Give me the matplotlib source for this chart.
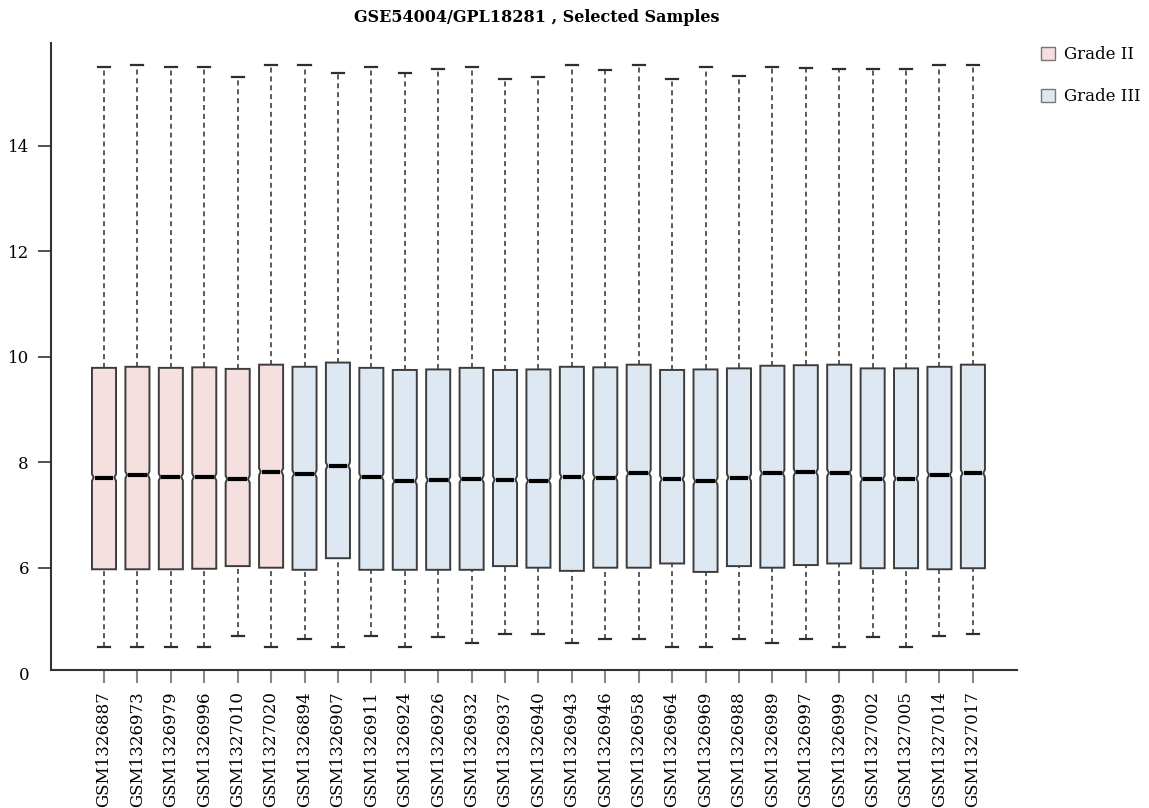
import matplotlib
matplotlib.use("Agg")
import matplotlib.pyplot as plt
from matplotlib.patches import Polygon, Patch
import numpy as np

plt.rcParams['font.family'] = ['DejaVu Serif']

# sample names and group (2 = Grade II, 3 = Grade III)
samples = ["GSM1326887", "GSM1326973", "GSM1326979", "GSM1326996", "GSM1327010", "GSM1327020",
           "GSM1326894", "GSM1326907", "GSM1326911", "GSM1326924", "GSM1326926", "GSM1326932",
           "GSM1326937", "GSM1326940", "GSM1326943", "GSM1326946", "GSM1326958", "GSM1326964",
           "GSM1326969", "GSM1326988", "GSM1326989", "GSM1326997", "GSM1326999", "GSM1327002",
           "GSM1327005", "GSM1327014", "GSM1327017"]
grade = [2, 2, 2, 2, 2, 2] + [3] * 21

# box statistics
whis_hi = [15.49, 15.54, 15.49, 15.49, 15.31, 15.54, 15.54, 15.38, 15.49, 15.38, 15.46, 15.49,
           15.27, 15.30, 15.54, 15.44, 15.54, 15.26, 15.49, 15.33, 15.49, 15.47, 15.46, 15.46,
           15.46, 15.54, 15.54]
q3 = [9.79, 9.81, 9.79, 9.80, 9.77, 9.85, 9.81, 9.89, 9.79, 9.75, 9.76, 9.79,
      9.75, 9.76, 9.81, 9.80, 9.85, 9.75, 9.76, 9.78, 9.83, 9.84, 9.85, 9.78,
      9.78, 9.81, 9.85]
medians = [7.71, 7.76, 7.72, 7.72, 7.68, 7.82, 7.78, 7.93, 7.72, 7.64, 7.66, 7.68,
           7.67, 7.65, 7.72, 7.71, 7.79, 7.68, 7.64, 7.71, 7.79, 7.81, 7.80, 7.68,
           7.69, 7.76, 7.79]
q1 = [5.97, 5.97, 5.97, 5.98, 6.03, 6.00, 5.96, 6.18, 5.96, 5.96, 5.96, 5.96,
      6.03, 6.00, 5.94, 6.00, 6.00, 6.08, 5.92, 6.03, 6.00, 6.05, 6.08, 5.99,
      5.99, 5.97, 5.99]
whis_lo = [4.50, 4.50, 4.50, 4.50, 4.70, 4.50, 4.64, 4.50, 4.70, 4.50, 4.68, 4.58,
           4.75, 4.75, 4.57, 4.64, 4.64, 4.50, 4.50, 4.64, 4.57, 4.64, 4.50, 4.68,
           4.50, 4.70, 4.75]

fill = {2: '#f5dfdf', 3: '#dde8f3'}
edge = '#3c3c3c'
wcol = '#2e2e2e'

fig = plt.figure(figsize=(11.49, 8.08), dpi=100)
ax = fig.add_axes([51 / 1149, 1 - 670 / 808, 966 / 1149, 627 / 808])

pos = np.arange(1, len(samples) + 1)
hw = 0.36      # half box width
ind = 0.05     # notch indent
nh = 0.065     # notch half height
cw = 0.18      # cap half width

for x, g, lo, a, m, b, hi in zip(pos, grade, whis_lo, q1, medians, q3, whis_hi):
    verts = [(x - hw, a), (x + hw, a), (x + hw, m - nh), (x + hw - ind, m),
             (x + hw, m + nh), (x + hw, b), (x - hw, b), (x - hw, m + nh),
             (x - hw + ind, m), (x - hw, m - nh)]
    ax.add_patch(Polygon(verts, closed=True, facecolor=fill[g], edgecolor=edge, lw=1.4, zorder=2))
    ax.plot([x - 0.28, x + 0.28], [m, m], color='black', lw=3, solid_capstyle='butt', zorder=3)
    ax.plot([x, x], [b, hi], color=wcol, lw=1.1, linestyle=(0, (3.3, 2.5)), zorder=1)
    ax.plot([x, x], [lo, a], color=wcol, lw=1.1, linestyle=(0, (3.3, 2.5)), zorder=1)
    ax.plot([x - cw, x + cw], [hi, hi], color=wcol, lw=1.6, zorder=1)
    ax.plot([x - cw, x + cw], [lo, lo], color=wcol, lw=1.6, zorder=1)

ax.set_xlim(-0.586, 28.32)
ax.set_ylim(4.06, 15.95)

ax.set_xticks(pos)
ax.set_xticklabels(samples, rotation=90, fontsize=12)
ax.set_yticks([6, 8, 10, 12, 14])
ax.tick_params(axis='y', length=9.4, width=1.2, color='#333333', pad=6.5, labelsize=12)
ax.tick_params(axis='x', length=9.4, width=1.5, color='#888888', pad=6)

for s in ['top', 'right']:
    ax.spines[s].set_visible(False)
for s in ['left', 'bottom']:
    ax.spines[s].set_color('#333333')
    ax.spines[s].set_linewidth(1.5)

fig.text(29 / 1149, 1 - 676 / 808, '0', ha='right', va='center', fontsize=12)

fig.text(537 / 1149, 1 - 18 / 808, 'GSE54004/GPL18281 , Selected Samples',
         ha='center', va='center', fontsize=11.5, fontweight='bold')

handles = [Patch(facecolor=fill[2], edgecolor='#777777', label='Grade II'),
           Patch(facecolor=fill[3], edgecolor='#777777', label='Grade III')]
fig.legend(handles=handles, loc='upper left', bbox_to_anchor=(1026 / 1149, 1 - 31 / 808),
           frameon=False, fontsize=12, handlelength=0.85, handleheight=0.85,
           handletextpad=0.55, labelspacing=1.5)

fig.savefig('out.png', dpi=100)
